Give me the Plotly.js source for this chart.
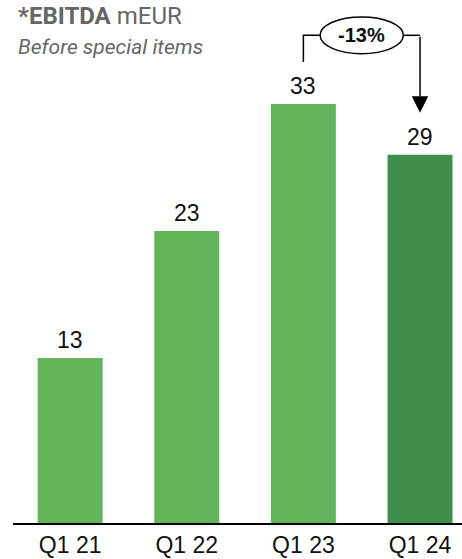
<!DOCTYPE html>
<html>
<head>
<meta charset="utf-8">
<script src="https://cdn.plot.ly/plotly-3.0.1.min.js"></script>
<style>html,body{margin:0;padding:0;background:#fff;}#chart{width:462px;height:559px;}</style>
</head>
<body>
<div id="chart"></div>
<script>
const categories = ['Q1 21', 'Q1 22', 'Q1 23', 'Q1 24'];
const values = [13, 23, 33, 29];
const barColors = ['#63b55b', '#63b55b', '#63b55b', '#3f8f4c'];
const changeLabel = '-13%';
const titleText = '<b>*EBITDA</b> mEUR';
const subtitleText = '<i>Before special items</i>';

const labelFont = {family: 'Liberation Sans, Arial, sans-serif', size: 23, color: '#111'};

const trace = {
  type: 'bar',
  x: [0, 1, 2, 3],
  y: values,
  marker: {color: barColors},
  width: 0.557,
  hoverinfo: 'none'
};

const annotations = values.map((v, i) => ({
  x: i, y: v, xref: 'x', yref: 'y', text: String(v), showarrow: false,
  yanchor: 'bottom', yshift: 3, font: labelFont
}));

annotations.push({
  xref: 'paper', yref: 'paper', x: 0, y: 1, xanchor: 'left', yanchor: 'middle',
  xshift: 3, yshift: -16, text: titleText, showarrow: false,
  font: {family: 'Roboto, sans-serif', size: 24, color: '#666'}
});
annotations.push({
  xref: 'paper', yref: 'paper', x: 0, y: 1, xanchor: 'left', yanchor: 'middle',
  xshift: 3, yshift: -47, text: subtitleText, showarrow: false,
  font: {family: 'Roboto, sans-serif', size: 21, color: '#666'}
});

// bracket comparing Q1 23 and Q1 24
const from = 2, to = 3;
const topY = 38.4;
const gapY = 3.3;
annotations.push({
  x: (from + to) / 2, y: topY, xref: 'x', yref: 'y', text: '<b>' + changeLabel + '</b>',
  showarrow: false, font: {family: 'Liberation Sans, Arial, sans-serif', size: 20, color: '#111'}
});
annotations.push({
  x: to, y: values[to] + gapY, xref: 'x', yref: 'y', ax: to, ay: topY, axref: 'x', ayref: 'y',
  text: '', showarrow: true, arrowhead: 2, arrowsize: 2.2, arrowwidth: 1.5, arrowcolor: '#000', standoff: 0
});

const ellL = 2.143, ellR = 2.857;
const shapes = [
  {type: 'path', xref: 'x', yref: 'y',
   path: `M ${from},${values[from] + gapY} L ${from},${topY} L ${ellL},${topY}`,
   line: {color: '#000', width: 1.5}},
  {type: 'path', xref: 'x', yref: 'y',
   path: `M ${ellR},${topY} L ${to},${topY}`,
   line: {color: '#000', width: 1.5}},
  {type: 'circle', xref: 'x', yref: 'y', x0: ellL, x1: ellR, y0: topY - 1.45, y1: topY + 1.45,
   line: {color: '#000', width: 1.5}, fillcolor: 'rgba(0,0,0,0)'}
];

const layout = {
  width: 462, height: 559,
  margin: {l: 13, r: 0, t: 0, b: 36, pad: 0},
  paper_bgcolor: '#fff', plot_bgcolor: '#fff',
  showlegend: false,
  xaxis: {
    range: [-0.49, 3.36], tickvals: [0, 1, 2, 3], ticktext: categories,
    showgrid: false, zeroline: false, showline: true, linecolor: '#000', linewidth: 2,
    ticks: '', tickfont: labelFont, fixedrange: true
  },
  yaxis: {
    range: [0, 41.18], visible: false, showgrid: false, zeroline: false, fixedrange: true
  },
  annotations: annotations,
  shapes: shapes
};

Plotly.newPlot('chart', [trace], layout, {displayModeBar: false, staticPlot: true});
</script>
</body>
</html>
